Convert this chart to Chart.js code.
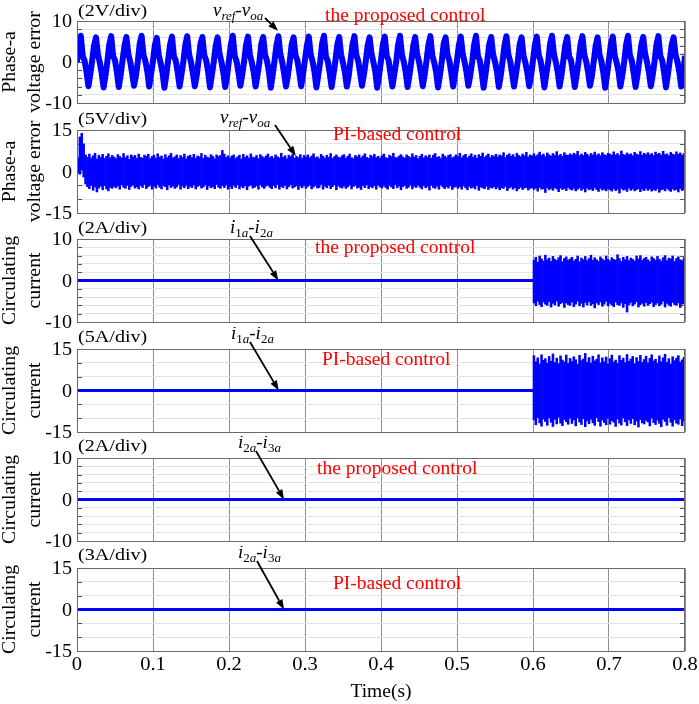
<!DOCTYPE html>
<html>
<head>
<meta charset="utf-8">
<script src="https://cdn.jsdelivr.net/npm/chart.js@4.4.0/dist/chart.umd.min.js"></script>
<style>
  html, body { margin: 0; padding: 0; background: #fff; }
  body { width: 699px; height: 704px; position: relative; overflow: hidden; }
  canvas { position: absolute; left: 0; }
</style>
</head>
<body>
<script>
// ---- time axis ----
const timeTicks = [0, 0.1, 0.2, 0.3, 0.4, 0.5, 0.6, 0.7, 0.8];
const timeLabels = ['0', '0.1', '0.2', '0.3', '0.4', '0.5', '0.6', '0.7', '0.8'];
const yTicks10 = [-10, 0, 10];
const yTicks15 = [-15, 0, 15];

// ---- panel 1: phase-a voltage error, proposed control (sampled every 2.5 ms) ----
const errPropV = [
  0.0, 4.5, 6.4, 1.6, 0.3, -2.4, -5.9, -3.0,
  0.4, 4.1, 6.0, 1.9, -0.1, -2.8, -6.2, -3.3,
  0.2, 4.3, 6.3, 1.5, 0.4, -2.5, -6.1, -3.1,
  0.5, 4.0, 6.1, 2.0, 0.1, -2.7, -5.8, -3.4,
  0.1, 4.4, 6.4, 1.7, 0.2, -2.3, -6.0, -2.9,
  0.3, 4.2, 5.9, 1.8, -0.2, -2.6, -6.3, -3.2,
  0.6, 4.3, 6.2, 1.4, 0.3, -2.5, -6.0, -3.0,
  0.2, 4.1, 6.3, 1.9, 0.0, -2.8, -5.9, -3.3,
  0.4, 4.5, 6.1, 1.6, 0.4, -2.4, -6.2, -3.1,
  0.1, 4.0, 6.0, 2.1, 0.1, -2.6, -6.1, -3.4,
  0.5, 4.3, 6.4, 1.5, 0.2, -2.7, -5.8, -3.0,
  0.3, 4.2, 6.2, 1.8, -0.1, -2.5, -6.0, -3.2,
  0.0, 4.4, 6.1, 1.7, 0.3, -2.3, -6.3, -3.1,
  0.4, 4.1, 6.3, 2.0, 0.0, -2.8, -6.0, -3.3,
  0.2, 4.3, 6.0, 1.6, 0.4, -2.6, -5.9, -2.9,
  0.6, 4.0, 6.2, 1.9, 0.1, -2.4, -6.2, -3.2,
  0.1, 4.5, 6.4, 1.4, 0.2, -2.7, -6.1, -3.0,
  0.3, 4.2, 6.1, 1.8, -0.2, -2.5, -6.0, -3.4,
  0.5, 4.3, 6.3, 1.7, 0.3, -2.6, -5.8, -3.1,
  0.2, 4.1, 6.0, 2.0, 0.0, -2.3, -6.3, -3.3,
  0.4, 4.4, 6.2, 1.5, 0.4, -2.8, -6.0, -3.0,
  0.0, 4.2, 6.4, 1.8, 0.1, -2.5, -6.1, -3.2,
  0.3, 4.0, 6.1, 1.9, 0.2, -2.6, -5.9, -3.1,
  0.5, 4.3, 6.3, 1.6, -0.1, -2.4, -6.2, -3.3,
  0.2, 4.5, 6.0, 1.7, 0.3, -2.7, -6.0, -2.9,
  0.4, 4.1, 6.2, 2.1, 0.0, -2.5, -5.8, -3.2,
  0.1, 4.2, 6.4, 1.5, 0.4, -2.6, -6.3, -3.0,
  0.6, 4.4, 6.1, 1.8, 0.1, -2.3, -6.1, -3.4,
  0.3, 4.0, 6.3, 1.9, 0.2, -2.8, -6.0, -3.1,
  0.2, 4.3, 6.0, 1.6, -0.2, -2.5, -5.9, -3.3,
  0.4, 4.2, 6.2, 1.7, 0.3, -2.6, -6.2, -3.0,
  0.0, 4.5, 6.4, 2.0, 0.0, -2.4, -6.0, -3.2,
  0.5, 4.1, 6.1, 1.4, 0.4, -2.7, -6.1, -3.1,
  0.2, 4.3, 6.3, 1.8, 0.1, -2.5, -5.8, -3.4,
  0.3, 4.0, 6.0, 1.9, 0.2, -2.6, -6.3, -3.0,
  0.6, 4.4, 6.2, 1.6, -0.1, -2.3, -6.0, -3.3,
  0.1, 4.2, 6.4, 1.7, 0.3, -2.8, -6.1, -3.1,
  0.4, 4.1, 6.1, 2.0, 0.0, -2.5, -5.9, -3.2,
  0.2, 4.3, 6.3, 1.5, 0.4, -2.6, -6.2, -3.0,
  0.5, 4.2, 6.0, 1.8, 0.1, -2.4, -6.0, -3.3,
  1.5
];
const errPropDt = 0.0025;

// ---- panel 2: phase-a voltage error, PI control (min/max per 2.5 ms bin) ----
const errPIHi = [
  5.0, 12.5, 13.8, 10.0, 6.0, 5.2, 6.3, 4.8, 5.7, 6.6, 4.5, 5.9, 5.1, 6.2, 4.7, 5.5, 6.4, 4.9, 5.8, 5.2,
  4.6, 6.1, 5.4, 4.9, 6.5, 5.0, 5.7, 4.4, 6.0, 5.3, 5.8, 4.7, 6.3, 5.1, 4.8, 5.9, 5.5, 6.2, 4.6, 5.4,
  5.9, 4.8, 6.4, 5.2, 5.6, 4.5, 6.1, 5.0, 5.7, 6.6, 4.9, 5.3, 6.0, 4.7, 5.8, 5.1, 6.3, 4.6, 5.5, 5.9,
  5.0, 6.2, 4.8, 5.6, 5.3, 6.5, 4.7, 5.9, 5.2, 4.9, 6.1, 5.5, 4.6, 6.0, 5.4, 5.8, 7.6, 6.3, 5.1, 5.7,
  4.9, 5.6, 6.0, 4.7, 5.3, 5.9, 4.5, 6.2, 5.1, 5.7, 4.8, 6.4, 5.2, 5.0, 5.8, 4.6, 6.1, 5.4, 4.9, 5.6,
  6.3, 5.0, 5.5, 4.7, 6.0, 5.3, 4.9, 6.6, 5.1, 5.7, 4.6, 5.9, 5.4, 6.2, 4.8, 5.5, 5.0, 6.1, 4.7, 5.8,
  5.2, 6.0, 4.9, 5.6, 6.4, 5.0, 5.3, 4.6, 6.2, 5.5, 4.8, 5.9, 5.1, 6.5, 4.7, 5.4, 6.0, 5.2, 4.9, 5.7,
  6.1, 4.8, 5.5, 6.3, 5.0, 4.6, 5.8, 5.3, 6.0, 4.9, 5.6, 6.4, 5.1, 4.7, 5.9, 5.4, 6.2, 5.0, 5.5, 4.8,
  5.7, 6.3, 5.0, 4.7, 5.9, 5.4, 6.6, 5.1, 4.9, 5.6, 6.1, 5.3, 4.8, 6.0, 5.5, 5.0, 6.4, 5.2, 5.8, 4.6,
  5.5, 6.2, 4.9, 5.7, 5.2, 6.0, 4.8, 5.9, 6.5, 5.1, 5.4, 4.7, 6.3, 5.6, 5.0, 5.8, 6.1, 4.9, 5.3, 6.0,
  5.4, 6.6, 5.0, 5.8, 6.2, 4.9, 5.6, 6.4, 5.2, 5.9, 4.8, 6.1, 5.5, 6.7, 5.1, 5.7, 6.3, 5.0, 5.8, 5.4,
  6.2, 5.3, 6.0, 5.6, 6.8, 5.1, 5.9, 6.4, 5.5, 6.1, 5.2, 6.6, 5.8, 5.4, 6.3, 5.7, 6.9, 5.3, 6.0, 5.6,
  6.4, 5.5, 6.1, 7.0, 5.8, 6.3, 5.4, 6.7, 6.0, 5.6, 6.5, 5.9, 7.2, 5.7, 6.2, 5.5, 6.8, 6.0, 5.8, 6.4,
  5.9, 6.6, 6.1, 7.3, 5.7, 6.3, 5.8, 6.9, 6.2, 5.6, 6.5, 6.0, 7.0, 5.9, 6.4, 5.7, 6.8, 6.1, 5.8, 6.6,
  6.3, 5.9, 7.1, 6.0, 6.5, 5.8, 7.4, 6.2, 5.9, 6.7, 6.1, 6.4, 5.7, 6.9, 6.3, 6.0, 7.2, 5.9, 6.6, 6.1,
  6.8, 6.0, 6.5, 5.8, 7.0, 6.2, 6.6, 5.9, 7.3, 6.1, 6.4, 5.7, 6.9, 6.3, 6.0, 7.1, 6.2, 6.7, 5.9, 6.5
];
const errPILo = [
  -0.5, -1.0, 0.5, -2.0, -4.5, -5.5, -6.2, -5.0, -6.8, -5.6, -7.4, -6.0, -5.3, -6.6, -5.1, -6.3, -7.0, -5.7, -6.1, -5.4,
  -5.9, -5.2, -6.4, -4.8, -5.7, -6.1, -5.0, -6.5, -5.4, -4.9, -6.0, -5.6, -6.3, -5.1, -5.8, -4.7, -6.2, -5.5, -5.0, -6.4,
  -5.3, -6.0, -4.8, -5.7, -6.3, -5.1, -5.5, -6.6, -4.9, -5.8, -5.2, -6.1, -5.6, -4.7, -6.4, -5.3, -5.9, -5.0, -6.2, -5.4,
  -5.8, -4.9, -6.3, -5.4, -5.0, -6.0, -5.6, -4.8, -6.5, -5.2, -5.9, -5.5, -6.2, -4.7, -5.7, -6.1, -5.1, -5.8, -4.9, -6.4,
  -5.5, -6.2, -5.0, -5.8, -4.8, -6.3, -5.4, -5.9, -5.1, -6.6, -5.3, -4.9, -6.0, -5.7, -5.2, -6.4, -4.8, -5.6, -6.1, -5.3,
  -4.9, -5.7, -6.2, -5.1, -5.9, -4.7, -6.4, -5.4, -5.8, -5.0, -6.3, -5.5, -4.8, -6.0, -5.6, -5.2, -6.5, -5.3, -5.9, -5.1,
  -6.1, -5.4, -4.9, -6.3, -5.6, -5.1, -6.0, -5.8, -4.7, -6.4, -5.3, -5.9, -5.0, -6.2, -5.5, -4.8, -6.6, -5.2, -5.7, -6.0,
  -5.3, -6.1, -5.6, -4.9, -6.3, -5.4, -5.0, -6.0, -5.7, -6.5, -5.1, -5.8, -4.8, -6.2, -5.5, -5.9, -5.2, -6.4, -4.9, -5.6,
  -6.0, -5.2, -5.8, -6.4, -5.0, -5.6, -6.2, -4.8, -5.9, -5.3, -6.6, -5.5, -5.1, -6.1, -5.7, -4.9, -6.3, -5.4, -5.8, -5.0,
  -5.7, -6.3, -5.1, -5.9, -5.4, -6.7, -5.0, -5.8, -6.1, -5.3, -6.4, -4.9, -5.6, -6.2, -5.5, -6.0, -5.2, -6.5, -5.7, -5.4,
  -6.1, -5.5, -6.4, -5.2, -5.9, -6.6, -5.4, -6.0, -5.7, -6.3, -5.1, -6.8, -5.6, -5.9, -6.2, -5.3, -6.5, -5.8, -6.0, -5.5,
  -6.3, -5.7, -6.6, -5.9, -6.1, -5.4, -6.9, -6.0, -5.6, -6.4, -5.8, -7.0, -6.2, -5.7, -6.5, -6.0, -5.8, -6.7, -6.1, -5.9,
  -6.5, -6.0, -7.1, -5.8, -6.4, -6.2, -7.6, -5.9, -6.6, -6.1, -6.8, -5.9, -6.3, -7.3, -6.0, -6.5, -6.2, -6.9, -5.8, -6.4,
  -6.7, -6.1, -7.0, -6.4, -5.9, -6.8, -6.2, -7.4, -6.0, -6.6, -6.3, -6.9, -5.9, -6.5, -7.2, -6.1, -6.7, -6.4, -7.0, -6.2,
  -6.6, -7.1, -6.2, -6.9, -6.4, -7.8, -6.1, -6.7, -6.5, -7.2, -6.0, -6.8, -6.3, -7.0, -6.6, -6.2, -7.3, -6.4, -6.9, -6.1,
  -6.8, -6.3, -7.1, -6.5, -6.9, -6.2, -7.5, -6.6, -6.4, -7.0, -6.1, -6.7, -7.2, -6.3, -6.8, -6.5, -7.4, -6.2, -6.9, -6.6
];
const errPIBin0 = 0.00125, errPIBinDt = 0.0025;

// ---- panels 3/4: i1a - i2a, flat until 0.6 s then min/max per 2.5 ms bin ----
const circ12FlatT = [0, 0.6];
const circ12FlatV = [0, 0];
const circ12Bin0 = 0.60125, circ12BinDt = 0.0025;
const circ12PropHi = [
  4.9, 5.6, 4.4, 5.9, 5.2, 4.7, 6.1, 5.0, 5.4, 4.6, 5.8, 5.1, 4.8, 5.5, 6.0, 4.5, 5.3, 5.7, 4.9, 5.2,
  5.6, 4.7, 5.1, 5.9, 4.5, 5.4, 5.0, 5.8, 4.8, 5.3, 6.1, 4.9, 5.5, 5.0, 4.6, 5.7, 5.2, 4.8, 5.9, 5.1,
  4.7, 5.5, 5.1, 4.9, 6.2, 5.3, 4.6, 5.6, 5.0, 5.8, 4.8, 5.4, 5.1, 4.7, 5.9, 5.2, 6.0, 4.9, 5.3, 5.6,
  5.0, 4.6, 5.7, 5.3, 4.9, 5.8, 5.1, 4.7, 5.5, 6.0, 4.8, 5.4, 5.2, 5.9, 4.6, 5.3, 5.7, 5.0, 4.8, 5.5
];
const circ12PropLo = [
  -5.4, -6.1, -5.0, -5.8, -6.3, -5.2, -5.7, -6.0, -5.1, -6.4, -5.5, -5.9, -5.0, -6.2, -5.6, -5.3, -6.5, -5.4, -5.8, -6.0,
  -5.2, -6.3, -5.7, -5.0, -6.1, -5.5, -6.4, -5.3, -5.9, -5.1, -6.0, -5.6, -6.6, -5.4, -5.8, -5.2, -6.2, -5.7, -5.0, -6.1,
  -5.5, -5.9, -6.3, -5.2, -5.8, -6.0, -5.4, -6.5, -5.6, -7.6, -5.9, -5.3, -6.1, -5.7, -5.1, -6.4, -5.8, -5.5, -6.2, -5.3,
  -6.0, -5.6, -5.2, -6.3, -5.8, -5.4, -6.1, -5.7, -5.0, -6.4, -5.5, -5.9, -6.2, -5.3, -5.8, -6.0, -5.4, -6.5, -5.7, -5.6
];
const circ12PIHi = [
  12.6, 10.4, 11.8, 9.6, 12.9, 10.9, 11.5, 9.9, 12.3, 10.6, 13.2, 10.1, 11.7, 9.7, 12.5, 11.0, 10.3, 12.8, 9.8, 11.6,
  10.5, 12.2, 11.1, 9.5, 12.7, 10.8, 11.4, 13.4, 10.2, 11.9, 9.9, 12.4, 10.7, 11.3, 12.9, 10.0, 11.8, 10.4, 12.1, 9.6,
  11.5, 12.8, 10.3, 11.0, 9.8, 12.6, 10.9, 11.7, 10.1, 13.0, 10.6, 11.4, 12.3, 9.7, 11.9, 10.5, 12.7, 10.2, 11.2, 12.4,
  10.0, 11.6, 12.9, 10.7, 11.3, 9.9, 12.5, 10.4, 11.8, 13.1, 10.2, 11.5, 9.6, 12.2, 10.8, 11.7, 12.6, 10.3, 11.1, 12.0
];
const circ12PILo = [
  -10.6, -12.4, -9.8, -11.7, -12.9, -10.3, -11.2, -12.6, -9.9, -11.5, -13.0, -10.4, -12.1, -9.7, -11.8, -12.7, -10.5, -11.3, -12.2, -10.0,
  -11.9, -10.6, -12.8, -9.9, -11.4, -12.3, -10.2, -13.1, -11.0, -12.0, -10.4, -11.7, -12.6, -9.8, -11.2, -12.9, -10.7, -11.6, -12.4, -10.1,
  -12.2, -10.9, -11.5, -13.0, -10.3, -11.8, -12.5, -9.9, -11.3, -12.7, -10.6, -11.9, -10.2, -12.4, -11.1, -13.2, -10.5, -11.7, -12.1, -10.8,
  -11.4, -12.8, -10.0, -11.6, -12.3, -10.7, -11.9, -13.1, -10.4, -11.2, -12.6, -9.8, -11.5, -12.9, -10.6, -11.8, -12.2, -10.3, -12.7, -11.0
];

// ---- panels 5/6: i2a - i3a, flat ----
const circ23T = [0, 0.8];
const circ23PropV = [0, 0];
const circ23PIV = [0, 0];

// ---- layout ----
const BLUE = '#0000ff';
const SERIF = '"Liberation Serif", "Times New Roman", serif';
const plotLeft = 77, plotRight = 685, pageW = 699;
const tops = [21, 130, 239, 349, 458, 568];
const bottoms = [103, 213, 322, 432, 541, 651];
const padTop = 22;

const noteV = [['v', 'i'], ['ref', 'si'], ['-', 'n'], ['v', 'i'], ['oa', 'si']];
const note12 = [['i', 'i'], ['1', 's'], ['a', 'si'], ['-', 'n'], ['i', 'i'], ['2', 's'], ['a', 'si']];
const note23 = [['i', 'i'], ['2', 's'], ['a', 'si'], ['-', 'n'], ['i', 'i'], ['3', 's'], ['a', 'si']];

function lineSet(ts, vs, w) {
  return {
    type: 'line', data: vs.map((v, i) => ({ x: ts[i], y: v })),
    borderColor: BLUE, borderWidth: w, pointRadius: 0, tension: 0,
    borderJoinStyle: 'round', fill: false
  };
}
function sampledSet(vs, dt, w) {
  return lineSet(vs.map((v, i) => i * dt), vs, w);
}
function bandSet(lo, hi, t0, dt) {
  return {
    type: 'bar', data: hi.map((h, i) => ({ x: t0 + i * dt, y: [lo[i], h] })),
    backgroundColor: BLUE, borderWidth: 0, barPercentage: 1, categoryPercentage: 1
  };
}

const panels = [
  { unit: '(2V/div)', unitY: 16, title: ['Phase-a', 'voltage error'], min: -10, max: 10, step: 2, labels: yTicks10,
    sets: [sampledSet(errPropV, errPropDt, 6)],
    note: noteV, noteX: 213, noteY: 16, from: [265, 18], tip: [0.2645, 7.6],
    red: 'the proposed control', redX: 325, redY: 21 },
  { unit: '(5V/div)', unitY: 124, title: ['Phase-a', 'voltage error'], min: -15, max: 15, step: 5, labels: yTicks15,
    sets: [bandSet(errPILo, errPIHi, errPIBin0, errPIBinDt)],
    note: noteV, noteX: 220, noteY: 123, from: [275, 125], tip: [0.288, 5.6],
    red: 'PI-based control', redX: 333, redY: 140 },
  { unit: '(2A/div)', unitY: 233, title: ['Circulating', 'current'], min: -10, max: 10, step: 2, labels: yTicks10,
    sets: [lineSet(circ12FlatT, circ12FlatV, 3), bandSet(circ12PropLo, circ12PropHi, circ12Bin0, circ12BinDt)],
    note: note12, noteX: 230, noteY: 233, from: [250, 236], tip: [0.265, 0],
    red: 'the proposed control', redX: 315, redY: 253 },
  { unit: '(5A/div)', unitY: 342, title: ['Circulating', 'current'], min: -15, max: 15, step: 5, labels: yTicks15,
    sets: [lineSet(circ12FlatT, circ12FlatV, 3), bandSet(circ12PILo, circ12PIHi, circ12Bin0, circ12BinDt)],
    note: note12, noteX: 231, noteY: 339, from: [250, 342], tip: [0.2655, 0],
    red: 'PI-based control', redX: 322, redY: 365 },
  { unit: '(2A/div)', unitY: 451, title: ['Circulating', 'current'], min: -10, max: 10, step: 2, labels: yTicks10,
    sets: [lineSet(circ23T, circ23PropV, 3)],
    note: note23, noteX: 238, noteY: 448, from: [256, 451], tip: [0.2725, 0],
    red: 'the proposed control', redX: 317, redY: 474 },
  { unit: '(3A/div)', unitY: 560, title: ['Circulating', 'current'], min: -15, max: 15, step: 5, labels: yTicks15,
    sets: [lineSet(circ23T, circ23PIV, 3)],
    note: note23, noteX: 238, noteY: 558, from: [257, 561], tip: [0.2725, 0],
    red: 'PI-based control', redX: 333, redY: 589 }
];

// text drawn with a horizontal stretch (the MATLAB labels are wider than plain Times)
function txt(ctx, s, x, y, size, sx, color, align) {
  ctx.save();
  ctx.font = size + 'px ' + SERIF;
  ctx.fillStyle = color;
  ctx.textBaseline = 'alphabetic';
  const w = ctx.measureText(s).width * sx;
  let x0 = x;
  if (align === 'right') x0 = x - w;
  else if (align === 'center') x0 = x - w / 2;
  ctx.translate(x0, y);
  ctx.scale(sx, 1);
  ctx.fillText(s, 0, 0);
  ctx.restore();
}

function vtxt(ctx, s, x, y, size, sx) {
  ctx.save();
  ctx.font = size + 'px ' + SERIF;
  ctx.fillStyle = '#000';
  ctx.textAlign = 'center';
  ctx.textBaseline = 'alphabetic';
  ctx.translate(x, y);
  ctx.rotate(-Math.PI / 2);
  ctx.scale(sx, 1);
  ctx.fillText(s, 0, 0);
  ctx.restore();
}

function rich(ctx, parts, x, y) {
  ctx.save();
  ctx.fillStyle = '#000';
  ctx.textBaseline = 'alphabetic';
  let cx = x;
  parts.forEach(([s, k]) => {
    const sub = k[0] === 's';
    const it = k === 'i' || k === 'si';
    ctx.font = (it ? 'italic ' : '') + (sub ? 13 : 19) + 'px ' + SERIF;
    ctx.fillText(s, cx, sub ? y + 4 : y);
    cx += ctx.measureText(s).width;
  });
  ctx.restore();
}

function arrow(ctx, x0, y0, x1, y1) {
  const a = Math.atan2(y1 - y0, x1 - x0), L = 10, W = 3.6;
  const bx = x1 - L * Math.cos(a), by = y1 - L * Math.sin(a);
  ctx.save();
  ctx.strokeStyle = '#000';
  ctx.fillStyle = '#000';
  ctx.lineWidth = 1.8;
  ctx.beginPath();
  ctx.moveTo(x0, y0);
  ctx.lineTo(bx, by);
  ctx.stroke();
  ctx.beginPath();
  ctx.moveTo(x1, y1);
  ctx.lineTo(bx + W * Math.sin(a), by - W * Math.cos(a));
  ctx.lineTo(bx - W * Math.sin(a), by + W * Math.cos(a));
  ctx.closePath();
  ctx.fill();
  ctx.restore();
}

function makeDecor(p, off, last) {
  return {
    id: 'decor',
    beforeDatasetsDraw(chart) {
      const { ctx, chartArea: a, scales: { y } } = chart;
      ctx.save();
      ctx.strokeStyle = '#555';
      ctx.lineWidth = 1;
      y.ticks.forEach(t => {
        const py = Math.round(y.getPixelForValue(t.value)) + 0.5;
        ctx.beginPath();
        ctx.moveTo(a.left, py); ctx.lineTo(a.left + 5, py);
        ctx.moveTo(a.right - 5, py); ctx.lineTo(a.right, py);
        ctx.stroke();
      });
      ctx.restore();
    },
    afterDraw(chart) {
      const { ctx, chartArea: a, scales: { x, y } } = chart;
      // frame
      ctx.save();
      ctx.strokeStyle = '#6a6a6a';
      ctx.lineWidth = 1;
      ctx.strokeRect(Math.round(a.left) + 0.5, Math.round(a.top) + 0.5,
        Math.round(a.right - a.left) - 1, Math.round(a.bottom - a.top));
      ctx.restore();
      // y tick labels
      p.labels.forEach(v => {
        txt(ctx, String(v), 72, y.getPixelForValue(v) + 6, 18, 1.12, '#000', 'right');
      });
      // y title (two lines)
      const cy = (a.top + a.bottom) / 2;
      vtxt(ctx, p.title[0], 15, cy, 18, 1.1);
      vtxt(ctx, p.title[1], 40, cy, 18, 1.1);
      // unit label
      txt(ctx, p.unit, 78, p.unitY - off, 17.5, 1.15, '#000', 'left');
      // signal name with arrow
      rich(ctx, p.note, p.noteX, p.noteY - off);
      arrow(ctx, p.from[0], p.from[1] - off, x.getPixelForValue(p.tip[0]), y.getPixelForValue(p.tip[1]));
      // control scheme name
      txt(ctx, p.red, p.redX, p.redY - off, 19.5, 1, '#ff0000', 'left');
      // time axis
      if (last) {
        timeTicks.forEach((t, i) => {
          txt(ctx, timeLabels[i], x.getPixelForValue(t), 670 - off, 19, 1.08, '#000', 'center');
        });
        txt(ctx, 'Time(s)', (a.left + a.right) / 2, 697 - off, 19.5, 1, '#000', 'center');
      }
    }
  };
}

panels.forEach((p, i) => {
  const last = i === panels.length - 1;
  const off = tops[i] - padTop;
  const plotH = bottoms[i] - tops[i];
  const extra = last ? 704 - bottoms[i] : 10;
  const h = padTop + plotH + extra;
  const cv = document.createElement('canvas');
  cv.width = pageW;
  cv.height = h;
  cv.style.top = off + 'px';
  document.body.appendChild(cv);

  new Chart(cv.getContext('2d'), {
    type: 'line',
    data: { datasets: p.sets },
    options: {
      responsive: false,
      animation: false,
      events: [],
      layout: { padding: { left: plotLeft, right: pageW - plotRight, top: padTop, bottom: extra } },
      plugins: { legend: { display: false }, tooltip: { enabled: false } },
      scales: {
        x: {
          type: 'linear', min: 0, max: 0.8, offset: false,
          ticks: { display: false, stepSize: 0.1 },
          grid: { color: '#8e8e8e', lineWidth: 1, drawTicks: false, offset: false },
          border: { display: false },
          afterFit: s => { s.height = 0; }
        },
        y: {
          type: 'linear', min: p.min, max: p.max,
          ticks: { display: false, stepSize: p.step },
          grid: { color: '#e2e2e2', lineWidth: 1, drawTicks: false },
          border: { display: false },
          afterFit: s => { s.width = 0; }
        }
      }
    },
    plugins: [makeDecor(p, off, last)]
  });
});
</script>
</body>
</html>
